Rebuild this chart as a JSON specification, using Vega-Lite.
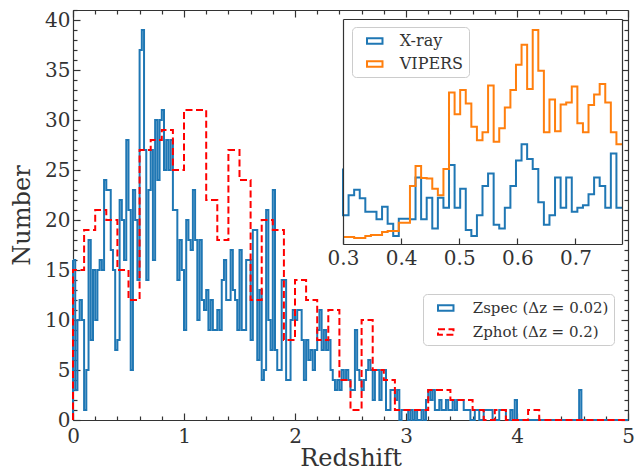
{
  "$schema": "https://vega.github.io/schema/vega-lite/v6.json",
  "width": 555,
  "height": 410,
  "autosize": {"type": "none"},
  "padding": {"left": 73, "top": 10, "right": 10, "bottom": 52},
  "config": {
    "font": "DejaVu Serif",
    "view": {"stroke": null},
    "axis": {
      "domainColor": "#333333", "domainWidth": 1.2, "tickColor": "#333333", "tickWidth": 1.2,
      "labelColor": "#333333", "labelFont": "DejaVu Serif", "labelFontSize": 20,
      "titleFont": "DejaVu Serif", "titleFontSize": 24, "titleFontWeight": "normal", "titleColor": "#333333",
      "grid": false, "labelFlush": false, "labelOverlap": false
    },
    "legend": {"labelFont": "DejaVu Serif", "labelColor": "#333333"}
  },
  "datasets": {
    "zspec": [
      {"s":"Zspec","z":0,"n":0},{"s":"Zspec","z":0,"n":16},{"s":"Zspec","z":0.02,"n":3},{"s":"Zspec","z":0.04,"n":10},{"s":"Zspec","z":0.06,"n":12},{"s":"Zspec","z":0.08,"n":10},{"s":"Zspec","z":0.1,"n":1},{"s":"Zspec","z":0.12,"n":5},{"s":"Zspec","z":0.14,"n":18},{"s":"Zspec","z":0.16,"n":8},{"s":"Zspec","z":0.18,"n":15},
      {"s":"Zspec","z":0.2,"n":10},{"s":"Zspec","z":0.22,"n":15},{"s":"Zspec","z":0.24,"n":16},{"s":"Zspec","z":0.26,"n":15},{"s":"Zspec","z":0.28,"n":24},{"s":"Zspec","z":0.3,"n":23},{"s":"Zspec","z":0.32,"n":23},{"s":"Zspec","z":0.34,"n":17},{"s":"Zspec","z":0.36,"n":15},{"s":"Zspec","z":0.38,"n":7},
      {"s":"Zspec","z":0.4,"n":8},{"s":"Zspec","z":0.42,"n":22},{"s":"Zspec","z":0.44,"n":20},{"s":"Zspec","z":0.46,"n":16},{"s":"Zspec","z":0.48,"n":28},{"s":"Zspec","z":0.5,"n":21},{"s":"Zspec","z":0.52,"n":5},{"s":"Zspec","z":0.54,"n":23},{"s":"Zspec","z":0.56,"n":20},{"s":"Zspec","z":0.58,"n":14},
      {"s":"Zspec","z":0.6,"n":37},{"s":"Zspec","z":0.62,"n":39},{"s":"Zspec","z":0.64,"n":27},{"s":"Zspec","z":0.66,"n":14},{"s":"Zspec","z":0.68,"n":23},{"s":"Zspec","z":0.7,"n":27},{"s":"Zspec","z":0.72,"n":16},{"s":"Zspec","z":0.74,"n":30},{"s":"Zspec","z":0.76,"n":24},{"s":"Zspec","z":0.78,"n":30},
      {"s":"Zspec","z":0.8,"n":31},{"s":"Zspec","z":0.82,"n":25},{"s":"Zspec","z":0.84,"n":28},{"s":"Zspec","z":0.86,"n":25},{"s":"Zspec","z":0.88,"n":28},{"s":"Zspec","z":0.9,"n":21},{"s":"Zspec","z":0.92,"n":21},{"s":"Zspec","z":0.94,"n":14},{"s":"Zspec","z":0.96,"n":18},{"s":"Zspec","z":0.98,"n":15},
      {"s":"Zspec","z":1,"n":9},{"s":"Zspec","z":1.02,"n":20},{"s":"Zspec","z":1.04,"n":18},{"s":"Zspec","z":1.06,"n":17},{"s":"Zspec","z":1.08,"n":23},{"s":"Zspec","z":1.1,"n":18},{"s":"Zspec","z":1.12,"n":10},{"s":"Zspec","z":1.14,"n":18},{"s":"Zspec","z":1.16,"n":12},{"s":"Zspec","z":1.18,"n":11},
      {"s":"Zspec","z":1.2,"n":13},{"s":"Zspec","z":1.22,"n":9},{"s":"Zspec","z":1.24,"n":12},{"s":"Zspec","z":1.26,"n":9},{"s":"Zspec","z":1.28,"n":9},{"s":"Zspec","z":1.3,"n":11},{"s":"Zspec","z":1.32,"n":9},{"s":"Zspec","z":1.34,"n":14},{"s":"Zspec","z":1.36,"n":16},{"s":"Zspec","z":1.38,"n":12},
      {"s":"Zspec","z":1.4,"n":12},{"s":"Zspec","z":1.42,"n":17},{"s":"Zspec","z":1.44,"n":13},{"s":"Zspec","z":1.46,"n":12},{"s":"Zspec","z":1.48,"n":9},{"s":"Zspec","z":1.5,"n":17},{"s":"Zspec","z":1.52,"n":9},{"s":"Zspec","z":1.54,"n":9},{"s":"Zspec","z":1.56,"n":16},{"s":"Zspec","z":1.58,"n":16},
      {"s":"Zspec","z":1.6,"n":8},{"s":"Zspec","z":1.62,"n":19},{"s":"Zspec","z":1.64,"n":19},{"s":"Zspec","z":1.66,"n":6},{"s":"Zspec","z":1.68,"n":13},{"s":"Zspec","z":1.7,"n":4},{"s":"Zspec","z":1.72,"n":5},{"s":"Zspec","z":1.74,"n":21},{"s":"Zspec","z":1.76,"n":10},{"s":"Zspec","z":1.78,"n":7},
      {"s":"Zspec","z":1.8,"n":23},{"s":"Zspec","z":1.82,"n":7},{"s":"Zspec","z":1.84,"n":5},{"s":"Zspec","z":1.86,"n":5},{"s":"Zspec","z":1.88,"n":14},{"s":"Zspec","z":1.9,"n":14},{"s":"Zspec","z":1.92,"n":4},{"s":"Zspec","z":1.94,"n":4},{"s":"Zspec","z":1.96,"n":10},{"s":"Zspec","z":1.98,"n":11},
      {"s":"Zspec","z":2,"n":10},{"s":"Zspec","z":2.02,"n":11},{"s":"Zspec","z":2.04,"n":11},{"s":"Zspec","z":2.06,"n":8},{"s":"Zspec","z":2.08,"n":4},{"s":"Zspec","z":2.1,"n":8},{"s":"Zspec","z":2.12,"n":6},{"s":"Zspec","z":2.14,"n":7},{"s":"Zspec","z":2.16,"n":5},{"s":"Zspec","z":2.18,"n":7},
      {"s":"Zspec","z":2.2,"n":9},{"s":"Zspec","z":2.22,"n":11},{"s":"Zspec","z":2.24,"n":7},{"s":"Zspec","z":2.26,"n":9},{"s":"Zspec","z":2.28,"n":7},{"s":"Zspec","z":2.3,"n":8},{"s":"Zspec","z":2.32,"n":5},{"s":"Zspec","z":2.34,"n":4},{"s":"Zspec","z":2.36,"n":3},{"s":"Zspec","z":2.38,"n":4},
      {"s":"Zspec","z":2.4,"n":3},{"s":"Zspec","z":2.42,"n":5},{"s":"Zspec","z":2.44,"n":4},{"s":"Zspec","z":2.46,"n":5},{"s":"Zspec","z":2.48,"n":4},{"s":"Zspec","z":2.5,"n":3},{"s":"Zspec","z":2.52,"n":3},{"s":"Zspec","z":2.54,"n":9},{"s":"Zspec","z":2.56,"n":5},{"s":"Zspec","z":2.58,"n":4},
      {"s":"Zspec","z":2.6,"n":3},{"s":"Zspec","z":2.62,"n":4},{"s":"Zspec","z":2.64,"n":5},{"s":"Zspec","z":2.66,"n":6},{"s":"Zspec","z":2.68,"n":5},{"s":"Zspec","z":2.7,"n":2},{"s":"Zspec","z":2.72,"n":5},{"s":"Zspec","z":2.74,"n":5},{"s":"Zspec","z":2.76,"n":2},{"s":"Zspec","z":2.78,"n":5},
      {"s":"Zspec","z":2.8,"n":5},{"s":"Zspec","z":2.82,"n":1},{"s":"Zspec","z":2.84,"n":1},{"s":"Zspec","z":2.86,"n":3},{"s":"Zspec","z":2.88,"n":3},{"s":"Zspec","z":2.9,"n":2},{"s":"Zspec","z":2.92,"n":3},{"s":"Zspec","z":2.94,"n":0},{"s":"Zspec","z":2.96,"n":1},{"s":"Zspec","z":2.98,"n":1},
      {"s":"Zspec","z":3,"n":1},{"s":"Zspec","z":3.02,"n":0},{"s":"Zspec","z":3.04,"n":1},{"s":"Zspec","z":3.06,"n":0},{"s":"Zspec","z":3.08,"n":1},{"s":"Zspec","z":3.1,"n":0},{"s":"Zspec","z":3.12,"n":0},{"s":"Zspec","z":3.14,"n":1},{"s":"Zspec","z":3.16,"n":0},{"s":"Zspec","z":3.18,"n":2},
      {"s":"Zspec","z":3.2,"n":3},{"s":"Zspec","z":3.22,"n":2},{"s":"Zspec","z":3.24,"n":3},{"s":"Zspec","z":3.26,"n":1},{"s":"Zspec","z":3.28,"n":1},{"s":"Zspec","z":3.3,"n":2},{"s":"Zspec","z":3.32,"n":1},{"s":"Zspec","z":3.34,"n":1},{"s":"Zspec","z":3.36,"n":2},{"s":"Zspec","z":3.38,"n":1},
      {"s":"Zspec","z":3.4,"n":1},{"s":"Zspec","z":3.42,"n":2},{"s":"Zspec","z":3.44,"n":1},{"s":"Zspec","z":3.46,"n":2},{"s":"Zspec","z":3.48,"n":2},{"s":"Zspec","z":3.5,"n":2},{"s":"Zspec","z":3.52,"n":1},{"s":"Zspec","z":3.54,"n":1},{"s":"Zspec","z":3.56,"n":1},{"s":"Zspec","z":3.58,"n":0},
      {"s":"Zspec","z":3.6,"n":0},{"s":"Zspec","z":3.62,"n":1},{"s":"Zspec","z":3.64,"n":1},{"s":"Zspec","z":3.66,"n":0},{"s":"Zspec","z":3.68,"n":0},{"s":"Zspec","z":3.7,"n":1},{"s":"Zspec","z":3.72,"n":1},{"s":"Zspec","z":3.74,"n":1},{"s":"Zspec","z":3.76,"n":1},{"s":"Zspec","z":3.78,"n":0},
      {"s":"Zspec","z":3.8,"n":0},{"s":"Zspec","z":3.82,"n":0},{"s":"Zspec","z":3.84,"n":1},{"s":"Zspec","z":3.86,"n":1},{"s":"Zspec","z":3.88,"n":1},{"s":"Zspec","z":3.9,"n":0},{"s":"Zspec","z":3.92,"n":0},{"s":"Zspec","z":3.94,"n":1},{"s":"Zspec","z":3.96,"n":0},{"s":"Zspec","z":3.98,"n":2},
      {"s":"Zspec","z":4,"n":0},{"s":"Zspec","z":4.56,"n":3},{"s":"Zspec","z":4.58,"n":0},{"s":"Zspec","z":5,"n":0}
    ],
    "zphot": [
      {"s":"Zphot","z":0,"n":0},{"s":"Zphot","z":0,"n":15},{"s":"Zphot","z":0.1,"n":19},{"s":"Zphot","z":0.2,"n":21},{"s":"Zphot","z":0.3,"n":20},{"s":"Zphot","z":0.4,"n":15},{"s":"Zphot","z":0.5,"n":12},{"s":"Zphot","z":0.6,"n":27},{"s":"Zphot","z":0.7,"n":28},{"s":"Zphot","z":0.8,"n":29},{"s":"Zphot","z":0.9,"n":25},
      {"s":"Zphot","z":1,"n":31},{"s":"Zphot","z":1.1,"n":31},{"s":"Zphot","z":1.2,"n":22},{"s":"Zphot","z":1.3,"n":18},{"s":"Zphot","z":1.4,"n":27},{"s":"Zphot","z":1.5,"n":24},{"s":"Zphot","z":1.6,"n":12},{"s":"Zphot","z":1.7,"n":20},{"s":"Zphot","z":1.8,"n":19},{"s":"Zphot","z":1.9,"n":8},
      {"s":"Zphot","z":2,"n":14},{"s":"Zphot","z":2.1,"n":12},{"s":"Zphot","z":2.2,"n":8},{"s":"Zphot","z":2.3,"n":11},{"s":"Zphot","z":2.4,"n":4},{"s":"Zphot","z":2.5,"n":1},{"s":"Zphot","z":2.6,"n":10},{"s":"Zphot","z":2.7,"n":5},{"s":"Zphot","z":2.8,"n":4},{"s":"Zphot","z":2.9,"n":1},
      {"s":"Zphot","z":3,"n":1},{"s":"Zphot","z":3.1,"n":1},{"s":"Zphot","z":3.2,"n":3},{"s":"Zphot","z":3.3,"n":3},{"s":"Zphot","z":3.4,"n":2},{"s":"Zphot","z":3.5,"n":2},{"s":"Zphot","z":3.6,"n":1},{"s":"Zphot","z":3.7,"n":0},{"s":"Zphot","z":3.8,"n":1},{"s":"Zphot","z":3.9,"n":0},
      {"s":"Zphot","z":4,"n":0},{"s":"Zphot","z":4.1,"n":1},{"s":"Zphot","z":4.2,"n":0},{"s":"Zphot","z":5,"n":0}
    ],
    "xray": [
      {"s":"X-ray","z":0.3,"v":2.04},{"s":"X-ray","z":0.3,"v":1.10},{"s":"X-ray","z":0.3096,"v":1.50},{"s":"X-ray","z":0.3192,"v":1.61},{"s":"X-ray","z":0.3288,"v":1.44},{"s":"X-ray","z":0.3384,"v":1.17},{"s":"X-ray","z":0.348,"v":1.17},{"s":"X-ray","z":0.3576,"v":1.02},{"s":"X-ray","z":0.3672,"v":1.27},{"s":"X-ray","z":0.3768,"v":0.93},{"s":"X-ray","z":0.3864,"v":0.68},
      {"s":"X-ray","z":0.396,"v":1.03},{"s":"X-ray","z":0.4056,"v":1.03},{"s":"X-ray","z":0.4152,"v":1.02},{"s":"X-ray","z":0.4248,"v":1.86},{"s":"X-ray","z":0.4344,"v":1.02},{"s":"X-ray","z":0.444,"v":1.45},{"s":"X-ray","z":0.4536,"v":0.83},{"s":"X-ray","z":0.4632,"v":1.45},{"s":"X-ray","z":0.4728,"v":1.25},{"s":"X-ray","z":0.4824,"v":2.11},
      {"s":"X-ray","z":0.492,"v":1.25},{"s":"X-ray","z":0.5016,"v":1.63},{"s":"X-ray","z":0.5112,"v":0.80},{"s":"X-ray","z":0.5208,"v":0.68},{"s":"X-ray","z":0.5304,"v":1.10},{"s":"X-ray","z":0.54,"v":1.69},{"s":"X-ray","z":0.5496,"v":1.94},{"s":"X-ray","z":0.5592,"v":0.91},{"s":"X-ray","z":0.5688,"v":0.83},{"s":"X-ray","z":0.5784,"v":1.25},
      {"s":"X-ray","z":0.588,"v":1.69},{"s":"X-ray","z":0.5976,"v":2.20},{"s":"X-ray","z":0.6072,"v":2.53},{"s":"X-ray","z":0.6168,"v":2.23},{"s":"X-ray","z":0.6264,"v":2.03},{"s":"X-ray","z":0.636,"v":1.36},{"s":"X-ray","z":0.6456,"v":0.91},{"s":"X-ray","z":0.6552,"v":1.10},{"s":"X-ray","z":0.6648,"v":1.86},{"s":"X-ray","z":0.6744,"v":1.25},
      {"s":"X-ray","z":0.684,"v":1.86},{"s":"X-ray","z":0.6936,"v":1.17},{"s":"X-ray","z":0.7032,"v":1.25},{"s":"X-ray","z":0.7128,"v":1.30},{"s":"X-ray","z":0.7224,"v":1.52},{"s":"X-ray","z":0.732,"v":1.86},{"s":"X-ray","z":0.7416,"v":1.69},{"s":"X-ray","z":0.7512,"v":1.25},{"s":"X-ray","z":0.7608,"v":2.34},{"s":"X-ray","z":0.7704,"v":1.25},{"s":"X-ray","z":0.78,"v":1.25}
    ],
    "vipers": [
      {"s":"VIPERS","z":0.3,"v":0.66},{"s":"VIPERS","z":0.3096,"v":0.66},{"s":"VIPERS","z":0.3192,"v":0.64},{"s":"VIPERS","z":0.3288,"v":0.64},{"s":"VIPERS","z":0.3384,"v":0.68},{"s":"VIPERS","z":0.348,"v":0.70},{"s":"VIPERS","z":0.3576,"v":0.70},{"s":"VIPERS","z":0.3672,"v":0.76},{"s":"VIPERS","z":0.3768,"v":0.78},{"s":"VIPERS","z":0.3864,"v":0.78},
      {"s":"VIPERS","z":0.396,"v":0.95},{"s":"VIPERS","z":0.4056,"v":0.95},{"s":"VIPERS","z":0.4152,"v":1.69},{"s":"VIPERS","z":0.4248,"v":2.09},{"s":"VIPERS","z":0.4344,"v":1.85},{"s":"VIPERS","z":0.444,"v":1.84},{"s":"VIPERS","z":0.4536,"v":1.63},{"s":"VIPERS","z":0.4632,"v":1.50},{"s":"VIPERS","z":0.4728,"v":2.03},{"s":"VIPERS","z":0.4824,"v":3.57},
      {"s":"VIPERS","z":0.492,"v":3.13},{"s":"VIPERS","z":0.5016,"v":3.62},{"s":"VIPERS","z":0.5112,"v":3.35},{"s":"VIPERS","z":0.5208,"v":2.88},{"s":"VIPERS","z":0.5304,"v":2.61},{"s":"VIPERS","z":0.54,"v":2.77},{"s":"VIPERS","z":0.5496,"v":3.71},{"s":"VIPERS","z":0.5592,"v":2.58},{"s":"VIPERS","z":0.5688,"v":2.85},{"s":"VIPERS","z":0.5784,"v":3.27},
      {"s":"VIPERS","z":0.588,"v":3.62},{"s":"VIPERS","z":0.5976,"v":4.13},{"s":"VIPERS","z":0.6072,"v":4.53},{"s":"VIPERS","z":0.6168,"v":3.64},{"s":"VIPERS","z":0.6264,"v":4.83},{"s":"VIPERS","z":0.636,"v":4.01},{"s":"VIPERS","z":0.6456,"v":2.77},{"s":"VIPERS","z":0.6552,"v":3.43},{"s":"VIPERS","z":0.6648,"v":2.79},{"s":"VIPERS","z":0.6744,"v":3.33},
      {"s":"VIPERS","z":0.684,"v":3.37},{"s":"VIPERS","z":0.6936,"v":3.69},{"s":"VIPERS","z":0.7032,"v":2.95},{"s":"VIPERS","z":0.7128,"v":2.77},{"s":"VIPERS","z":0.7224,"v":3.32},{"s":"VIPERS","z":0.732,"v":3.53},{"s":"VIPERS","z":0.7416,"v":3.74},{"s":"VIPERS","z":0.7512,"v":3.37},{"s":"VIPERS","z":0.7608,"v":2.77},{"s":"VIPERS","z":0.7704,"v":2.53},{"s":"VIPERS","z":0.78,"v":2.53}
    ]
  },
  "layer": [
    {
      "layer": [
        {
          "data": {"name": "zphot"},
          "mark": {"type": "line", "opacity": 0},
          "encoding": {
            "x": {"field": "z", "type": "quantitative", "scale": {"domain": [0, 5], "nice": false, "zero": false},
              "axis": {"orient": "bottom", "values": [0.2,0.4,0.6,0.8,1.2,1.4,1.6,1.8,2.2,2.4,2.6,2.8,3.2,3.4,3.6,3.8,4.2,4.4,4.6,4.8], "labels": false, "domain": false, "tickSize": -4, "title": null}},
            "y": {"field": "n", "type": "quantitative", "scale": {"domain": [0, 41], "nice": false},
              "axis": {"orient": "left", "values": [1,2,3,4,6,7,8,9,11,12,13,14,16,17,18,19,21,22,23,24,26,27,28,29,31,32,33,34,36,37,38,39,41], "labels": false, "domain": false, "tickSize": -4, "title": null}}
          }
        },
        {
          "data": {"name": "zphot"},
          "mark": {"type": "line", "opacity": 0},
          "encoding": {
            "x": {"field": "z", "type": "quantitative", "scale": {"domain": [0, 5], "nice": false, "zero": false},
              "axis": {"orient": "top", "values": [0.2,0.4,0.6,0.8,1.2,1.4,1.6,1.8,2.2,2.4,2.6,2.8,3.2,3.4,3.6,3.8,4.2,4.4,4.6,4.8], "labels": false, "domain": false, "tickSize": -4, "title": null}},
            "y": {"field": "n", "type": "quantitative", "scale": {"domain": [0, 41], "nice": false},
              "axis": {"orient": "right", "values": [1,2,3,4,6,7,8,9,11,12,13,14,16,17,18,19,21,22,23,24,26,27,28,29,31,32,33,34,36,37,38,39], "labels": false, "domain": false, "tickSize": -4, "title": null}}
          }
        },
        {
          "data": {"name": "zspec"},
          "mark": {"type": "line", "interpolate": "step-after", "strokeWidth": 2},
          "encoding": {
            "x": {"field": "z", "type": "quantitative", "scale": {"domain": [0, 5], "nice": false, "zero": false},
              "axis": {"orient": "bottom", "values": [0, 1, 2, 3, 4, 5], "format": "d", "tickSize": -7,
                "labelPadding": 13, "title": "Redshift", "titlePadding": 0}},
            "y": {"field": "n", "type": "quantitative", "scale": {"domain": [0, 41], "nice": false},
              "axis": {"orient": "left", "values": [0, 5, 10, 15, 20, 25, 30, 35, 40], "format": "d", "tickSize": -7,
                "labelPadding": 10, "title": "Number", "titlePadding": 10}},
            "color": {"field": "s", "type": "nominal", "scale": {"domain": ["Zspec", "Zphot"], "range": ["#1f77b4", "#ff0000"]},
              "legend": {"orient": "none", "legendX": 350, "legendY": 284, "title": null,
                "labelExpr": "datum.label == 'Zspec' ? 'Zspec (Δz = 0.02)' : 'Zphot (Δz = 0.2)'",
                "symbolType": "M-1,-0.35H1V0.35H-1Z", "symbolSize": 240, "symbolStrokeWidth": 2, "symbolFillColor": "transparent", "symbolOffset": 8.75,
                "labelFontSize": 15, "fillColor": "white", "strokeColor": "#cccccc", "cornerRadius": 4, "padding": 5, "rowPadding": 7, "labelOffset": 18}},
            "strokeDash": {"field": "s", "type": "nominal", "scale": {"domain": ["Zspec", "Zphot"], "range": [[1, 0], [7, 3.5]]},
              "legend": {"orient": "none", "legendX": 350, "legendY": 284, "title": null,
                "labelExpr": "datum.label == 'Zspec' ? 'Zspec (Δz = 0.02)' : 'Zphot (Δz = 0.2)'",
                "symbolType": "M-1,-0.35H1V0.35H-1Z", "symbolSize": 240, "symbolStrokeWidth": 2, "symbolFillColor": "transparent", "symbolOffset": 8.75,
                "labelFontSize": 15, "fillColor": "white", "strokeColor": "#cccccc", "cornerRadius": 4, "padding": 5, "rowPadding": 7, "labelOffset": 18}}
          }
        },
        {
          "data": {"name": "zphot"},
          "mark": {"type": "line", "interpolate": "step-after", "strokeWidth": 2},
          "encoding": {
            "x": {"field": "z", "type": "quantitative", "scale": {"domain": [0, 5], "nice": false, "zero": false},
              "axis": {"orient": "top", "values": [0, 1, 2, 3, 4, 5], "labels": false, "title": null, "tickSize": -7}},
            "y": {"field": "n", "type": "quantitative", "scale": {"domain": [0, 41], "nice": false},
              "axis": {"orient": "right", "values": [0, 5, 10, 15, 20, 25, 30, 35, 40], "labels": false, "title": null, "tickSize": -7}},
            "color": {"field": "s", "type": "nominal"},
            "strokeDash": {"field": "s", "type": "nominal"}
          }
        }
      ],
      "resolve": {"axis": {"x": "independent", "y": "independent"}}
    },
    {
      "layer": [
        {
          "data": {"values": [{}]},
          "mark": {"type": "rect", "fill": "white"},
          "encoding": {
            "x": {"datum": 0.3, "type": "quantitative", "scale": {"domain": [0.3, 0.78], "range": [270, 549], "nice": false, "zero": false}, "axis": null},
            "x2": {"datum": 0.78},
            "y": {"datum": 0.52, "type": "quantitative", "scale": {"domain": [0.52, 5.05], "range": [234, 9], "nice": false, "zero": false}, "axis": null},
            "y2": {"datum": 5.05}
          }
        },
        {
          "data": {"name": "xray"},
          "mark": {"type": "line", "interpolate": "step-after", "strokeWidth": 2},
          "encoding": {
            "x": {"field": "z", "type": "quantitative", "scale": {"domain": [0.3, 0.78], "range": [270, 549], "nice": false, "zero": false},
              "axis": {"orient": "bottom", "offset": -176, "values": [0.3, 0.4, 0.5, 0.6, 0.7], "format": ".1f", "tickSize": -6, "labelPadding": 10, "title": null, "zindex": 1}},
            "y": {"field": "v", "type": "quantitative", "scale": {"domain": [0.52, 5.05], "range": [234, 9], "nice": false, "zero": false},
              "axis": {"orient": "left", "offset": -270, "ticks": false, "labels": false, "title": null, "zindex": 1}},
            "color": {"field": "s", "type": "nominal", "scale": {"domain": ["X-ray", "VIPERS"], "range": ["#1f77b4", "#ff7f0e"]},
              "legend": {"orient": "none", "legendX": 279, "legendY": 17, "title": null,
                "symbolType": "M-1,-0.35H1V0.35H-1Z", "symbolSize": 240, "symbolStrokeWidth": 2, "symbolFillColor": "transparent", "symbolOffset": 8.75,
                "labelFontSize": 16, "fillColor": "white", "strokeColor": "#cccccc", "cornerRadius": 4, "padding": 5, "rowPadding": 6, "labelOffset": 16}}
          }
        },
        {
          "data": {"name": "vipers"},
          "mark": {"type": "line", "interpolate": "step-after", "strokeWidth": 2},
          "encoding": {
            "x": {"field": "z", "type": "quantitative", "scale": {"domain": [0.3, 0.78], "range": [270, 549], "nice": false, "zero": false},
              "axis": {"orient": "top", "offset": -9, "ticks": false, "labels": false, "title": null, "zindex": 1}},
            "y": {"field": "v", "type": "quantitative", "scale": {"domain": [0.52, 5.05], "range": [234, 9], "nice": false, "zero": false},
              "axis": {"orient": "right", "offset": -6, "ticks": false, "labels": false, "title": null, "zindex": 1}},
            "color": {"field": "s", "type": "nominal"}
          }
        }
      ],
      "resolve": {"axis": {"x": "independent", "y": "independent"}}
    }
  ],
  "resolve": {
    "scale": {"x": "independent", "y": "independent", "color": "independent", "strokeDash": "independent"},
    "axis": {"x": "independent", "y": "independent"}
  }
}
